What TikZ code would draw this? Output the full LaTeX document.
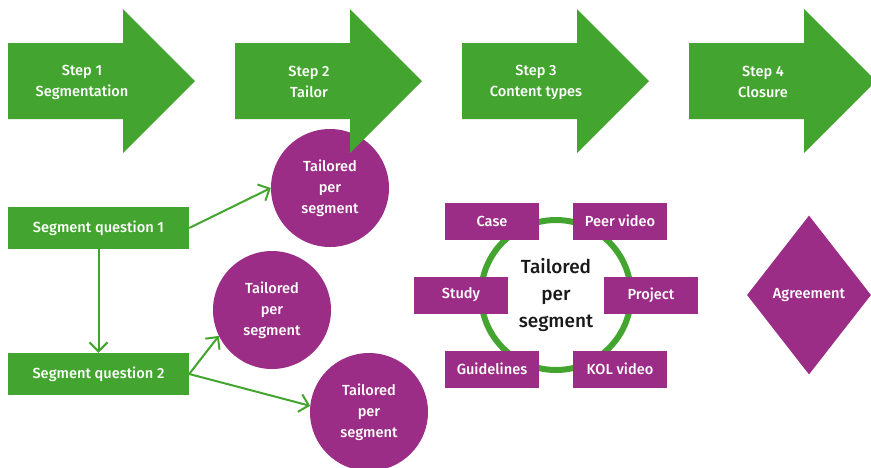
\documentclass[tikz,border=0pt]{standalone}
\usepackage{fontspec}
\setmainfont{Fira Sans}
\newfontfamily\medfont{Fira Sans Medium}
\usetikzlibrary{positioning, shapes.geometric, arrows.meta}

\definecolor{stepgreen}{RGB}{67,165,47}
\definecolor{plum}{RGB}{155,45,134}

\begin{document}
\begin{tikzpicture}[x=1pt, y=-1pt,
    whitetext/.style={text=white, align=center, font=\medfont\fontsize{14.6}{21}\selectfont},
    qbox/.style={rectangle, fill=stepgreen, minimum width=181pt, minimum height=42pt, inner sep=0pt, whitetext},
    tailor/.style={circle, fill=plum, minimum size=118pt, inner sep=0pt, whitetext},
    ctype/.style={rectangle, fill=plum, minimum width=94pt, minimum height=37pt, inner sep=0pt, whitetext},
    link/.style={draw=stepgreen, line width=2pt, -{Straight Barb[length=9pt,width=18pt]}}]
    \useasboundingbox (0,0) rectangle (871,467);
    \clip (0,0) rectangle (871,467);

    % tailored circles sit below the step arrows
    \node[tailor] (c1) at (330,188) {Tailored\\per\\segment};
    \node[tailor] (c2) at (272,310) {Tailored\\per\\segment};
    \node[tailor] (c3) at (369,412) {Tailored\\per\\segment};

    % step arrows
    \foreach \x/\n/\txt in {8/1/Segmentation, 235/2/Tailor, 462/3/Content types, 689/4/Closure} {
        \fill[stepgreen] (\x,43) -- ++(115,0) -- ++(0,-34) -- ++(72,72) -- ++(-72,72) -- ++(0,-34) -- ++(-115,0) -- cycle;
        \node[whitetext] (step\n) at (\x+74,82) {Step \n\\\txt};
    }

    % segment questions
    \node[qbox] (q1) at (98.5,228) {Segment question 1};
    \node[qbox] (q2) at (98.5,374) {Segment question 2};
    \draw[link] (q1) -- (q2);
    \draw[link] (q1.east) -- (c1.west);
    \draw[link] (q2.east) -- (c2.206);
    \draw[link] (q2.east) -- (c3.174);

    % content types round the ring
    \node[font=\medfont\fontsize{19}{27}\selectfont, align=center, text=black!90] (ring) at (556,295) {Tailored\\per\\segment};
    \draw[stepgreen, line width=6pt] (ring) circle (75pt);
    \node[ctype] (case) at (492,221) {Case};
    \node[ctype] (peer) at (620,221) {Peer video};
    \node[ctype] (study) at (461,295) {Study};
    \node[ctype] (project) at (651,295) {Project};
    \node[ctype] (guide) at (492,369) {Guidelines};
    \node[ctype] (kol) at (620,369) {KOL video};

    % closure
    \node[diamond, fill=plum, minimum width=124pt, minimum height=159pt, inner sep=0pt, whitetext] (agree) at (809,295) {Agreement};
\end{tikzpicture}
\end{document}
